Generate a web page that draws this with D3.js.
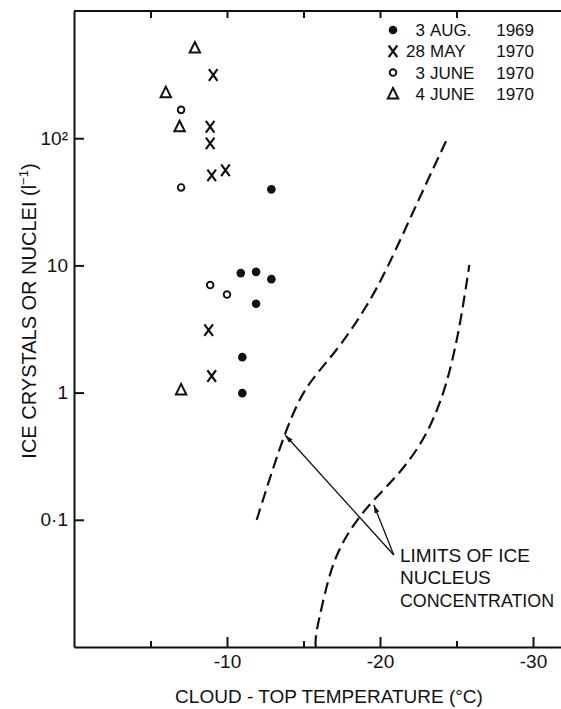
<!DOCTYPE html>
<html>
<head>
<meta charset="utf-8">
<script src="https://cdn.jsdelivr.net/npm/d3@7"></script>
<style>
  html, body { margin: 0; padding: 0; background: #fff; }
  svg { display: block; }
  text { font-family: "Liberation Sans", Arial, sans-serif; fill: #111; }
</style>
</head>
<body>
<svg id="chart" width="561" height="709"></svg>
<script>
// Observations: [cloud-top temperature (°C), ice crystal concentration (per litre)]
const aug1969  = [[-12.9, 39.6], [-10.9, 8.7], [-11.9, 8.9], [-12.9, 7.8], [-11.9, 5.0], [-11.0, 1.9], [-11.0, 0.99]];
const may1970  = [[-9.1, 314], [-8.9, 123], [-8.9, 91], [-9.0, 51], [-9.9, 56], [-8.8, 3.1], [-9.0, 1.35]];
const june3_1970 = [[-7.0, 167], [-7.0, 41], [-8.9, 7.0], [-10.0, 5.9]];
const june4_1970 = [[-7.9, 512], [-6.0, 228], [-6.9, 123], [-7.0, 1.05]];

// Limits of ice nucleus concentration
const upperLimit = [[-11.94, 0.10], [-13.03, 0.26], [-13.79, 0.48], [-14.77, 0.93], [-15.86, 1.42],
                    [-17.39, 2.30], [-19.13, 4.73], [-20.44, 9.2], [-22.61, 34.7], [-24.46, 103]];
const lowerLimit = [[-15.8, 0.01], [-15.75, 0.012], [-16.29, 0.0234], [-16.84, 0.043], [-17.60, 0.069],
                    [-18.58, 0.103], [-19.56, 0.143], [-21.31, 0.232], [-23.05, 0.45], [-24.36, 1.11],
                    [-25.23, 3.3], [-25.84, 10.1]];

// Axis ticks
const tempMajorTicks = [-10, -20, -30];
const tempMinorTicks = [-5, -15, -25];
const tempTopTicks = [-5, -10, -15, -20, -25];
const concTicks = [0.1, 1, 10, 100];
const concTickLabels = ["0·1", "1", "10", "10²"];

// Legend rows: day, month, year
const legendRows = [["3", "AUG.", "1969"], ["28", "MAY", "1970"], ["3", "JUNE", "1970"], ["4", "JUNE", "1970"]];
const legendSymbols = ["dot", "cross", "ring", "triangle"];

// Annotation: label anchor and the two arrow tips (data units)
const noteBase = [-20.9, 0.0529];
const noteTips = [[-13.8, 0.464], [-19.6, 0.131]];
const noteLines = ["LIMITS OF ICE", "NUCLEUS", "CONCENTRATION"];

const ink = "#111";
const svg = d3.select("#chart");

const x = d3.scaleLinear().domain([0, -32]).range([74, 74 + 15.3 * 32]);
const y = d3.scaleLog().domain([0.01, 1000]).range([647, 11]);

// Frame: top border
svg.append("line")
  .attr("x1", x(0)).attr("x2", 561).attr("y1", y(1000)).attr("y2", y(1000))
  .attr("stroke", ink).attr("stroke-width", 2);

function styleAxis(g) {
  g.selectAll("path.domain").attr("stroke", ink).attr("stroke-width", 2);
  g.selectAll(".tick line").attr("stroke", ink).attr("stroke-width", 2);
  g.selectAll(".tick text").attr("fill", ink);
}

// Bottom axis
const gx = svg.append("g").attr("transform", `translate(0,${y(0.01)})`)
  .call(d3.axisBottom(x).tickValues(tempMajorTicks).tickSizeInner(-10).tickSizeOuter(0)
    .tickPadding(8).tickFormat(d => "-" + Math.abs(d)));
gx.selectAll(".tick text").attr("font-size", 19).attr("font-family", "Liberation Sans, Arial, sans-serif");
styleAxis(gx);
svg.append("g").attr("transform", `translate(0,${y(0.01)})`)
  .call(d3.axisBottom(x).tickValues(tempMinorTicks).tickSizeInner(-6).tickSizeOuter(0).tickFormat(""))
  .call(g => g.select("path.domain").remove())
  .call(styleAxis);

// Top ticks
svg.append("g").attr("transform", `translate(0,${y(1000)})`)
  .call(d3.axisTop(x).tickValues(tempTopTicks).tickSizeInner(-7).tickSizeOuter(0).tickFormat(""))
  .call(g => g.select("path.domain").remove())
  .call(styleAxis);

// Left axis
const gy = svg.append("g").attr("transform", `translate(${x(0)},0)`)
  .call(d3.axisLeft(y).tickValues(concTicks).tickSizeInner(-10).tickSizeOuter(0)
    .tickPadding(6).tickFormat((d, i) => concTickLabels[i]));
gy.selectAll(".tick text").attr("font-size", 19).attr("font-family", "Liberation Sans, Arial, sans-serif");
styleAxis(gy);

// Axis titles
svg.append("text")
  .attr("x", 329).attr("y", 703).attr("text-anchor", "middle").attr("font-size", 19)
  .text("CLOUD - TOP TEMPERATURE (°C)");

const yt = svg.append("text")
  .attr("transform", "translate(36,311) rotate(-90)")
  .attr("text-anchor", "middle").attr("font-size", 20);
yt.append("tspan").text("ICE CRYSTALS OR NUCLEI (l");
yt.append("tspan").attr("dy", -8).attr("font-size", 13).text("−1");
yt.append("tspan").attr("dy", 8).text(")");

// Limit curves
const line = d3.line().x(d => x(d[0])).y(d => y(d[1])).curve(d3.curveBasis);
[upperLimit, lowerLimit].forEach(data => {
  svg.append("path").datum(data).attr("d", line)
    .attr("fill", "none").attr("stroke", ink).attr("stroke-width", 2.2)
    .attr("stroke-dasharray", "12,6");
});

// Symbols
function drawSymbol(g, kind) {
  if (kind === "dot") {
    g.append("circle").attr("r", 4.3).attr("fill", ink);
  } else if (kind === "ring") {
    g.append("circle").attr("r", 3.3).attr("fill", "none").attr("stroke", ink).attr("stroke-width", 1.9);
  } else if (kind === "cross") {
    g.append("path").attr("d", "M-4.3,-5.8L4.3,5.8M4.3,-5.8L-4.3,5.8")
      .attr("stroke", ink).attr("stroke-width", 2.2).attr("fill", "none");
  } else if (kind === "triangle") {
    g.append("path").attr("d", "M0,-6L5.2,4.6L-5.2,4.6Z")
      .attr("stroke", ink).attr("stroke-width", 2).attr("fill", "none").attr("stroke-linejoin", "miter");
  }
}

const series = [aug1969, may1970, june3_1970, june4_1970];
series.forEach((data, si) => {
  svg.append("g").selectAll("g").data(data).join("g")
    .attr("transform", d => `translate(${x(d[0])},${y(d[1])})`)
    .each(function () { drawSymbol(d3.select(this), legendSymbols[si]); });
});

// Legend
const legend = svg.append("g");
legendRows.forEach((row, i) => {
  const cy = 30 + i * 21.3;
  const g = legend.append("g").attr("transform", `translate(393,${cy})`);
  drawSymbol(g, legendSymbols[i]);
  legend.append("text").attr("x", 425).attr("y", cy + 6).attr("text-anchor", "end").attr("font-size", 17).text(row[0]);
  legend.append("text").attr("x", 430).attr("y", cy + 6).attr("font-size", 17).text(row[1]);
  legend.append("text").attr("x", 534).attr("y", cy + 6).attr("text-anchor", "end").attr("font-size", 17).text(row[2]);
});

// Annotation arrows
svg.append("defs").append("marker")
  .attr("id", "arrowhead").attr("viewBox", "0 0 10 6").attr("refX", 10).attr("refY", 3)
  .attr("markerUnits", "userSpaceOnUse").attr("markerWidth", 10).attr("markerHeight", 5)
  .attr("orient", "auto")
  .append("path").attr("d", "M0,0L10,3L0,6Z").attr("fill", ink);

noteTips.forEach(t => {
  svg.append("line")
    .attr("x1", x(noteBase[0])).attr("y1", y(noteBase[1]))
    .attr("x2", x(t[0])).attr("y2", y(t[1]))
    .attr("stroke", ink).attr("stroke-width", 1.3)
    .attr("marker-end", "url(#arrowhead)");
});

noteLines.forEach((s, i) => {
  const t = svg.append("text").attr("x", 400).attr("y", 562 + i * 22.3).attr("font-size", 19).text(s);
  if (s === "CONCENTRATION") t.attr("textLength", 154).attr("lengthAdjust", "spacingAndGlyphs");
});
</script>
</body>
</html>
